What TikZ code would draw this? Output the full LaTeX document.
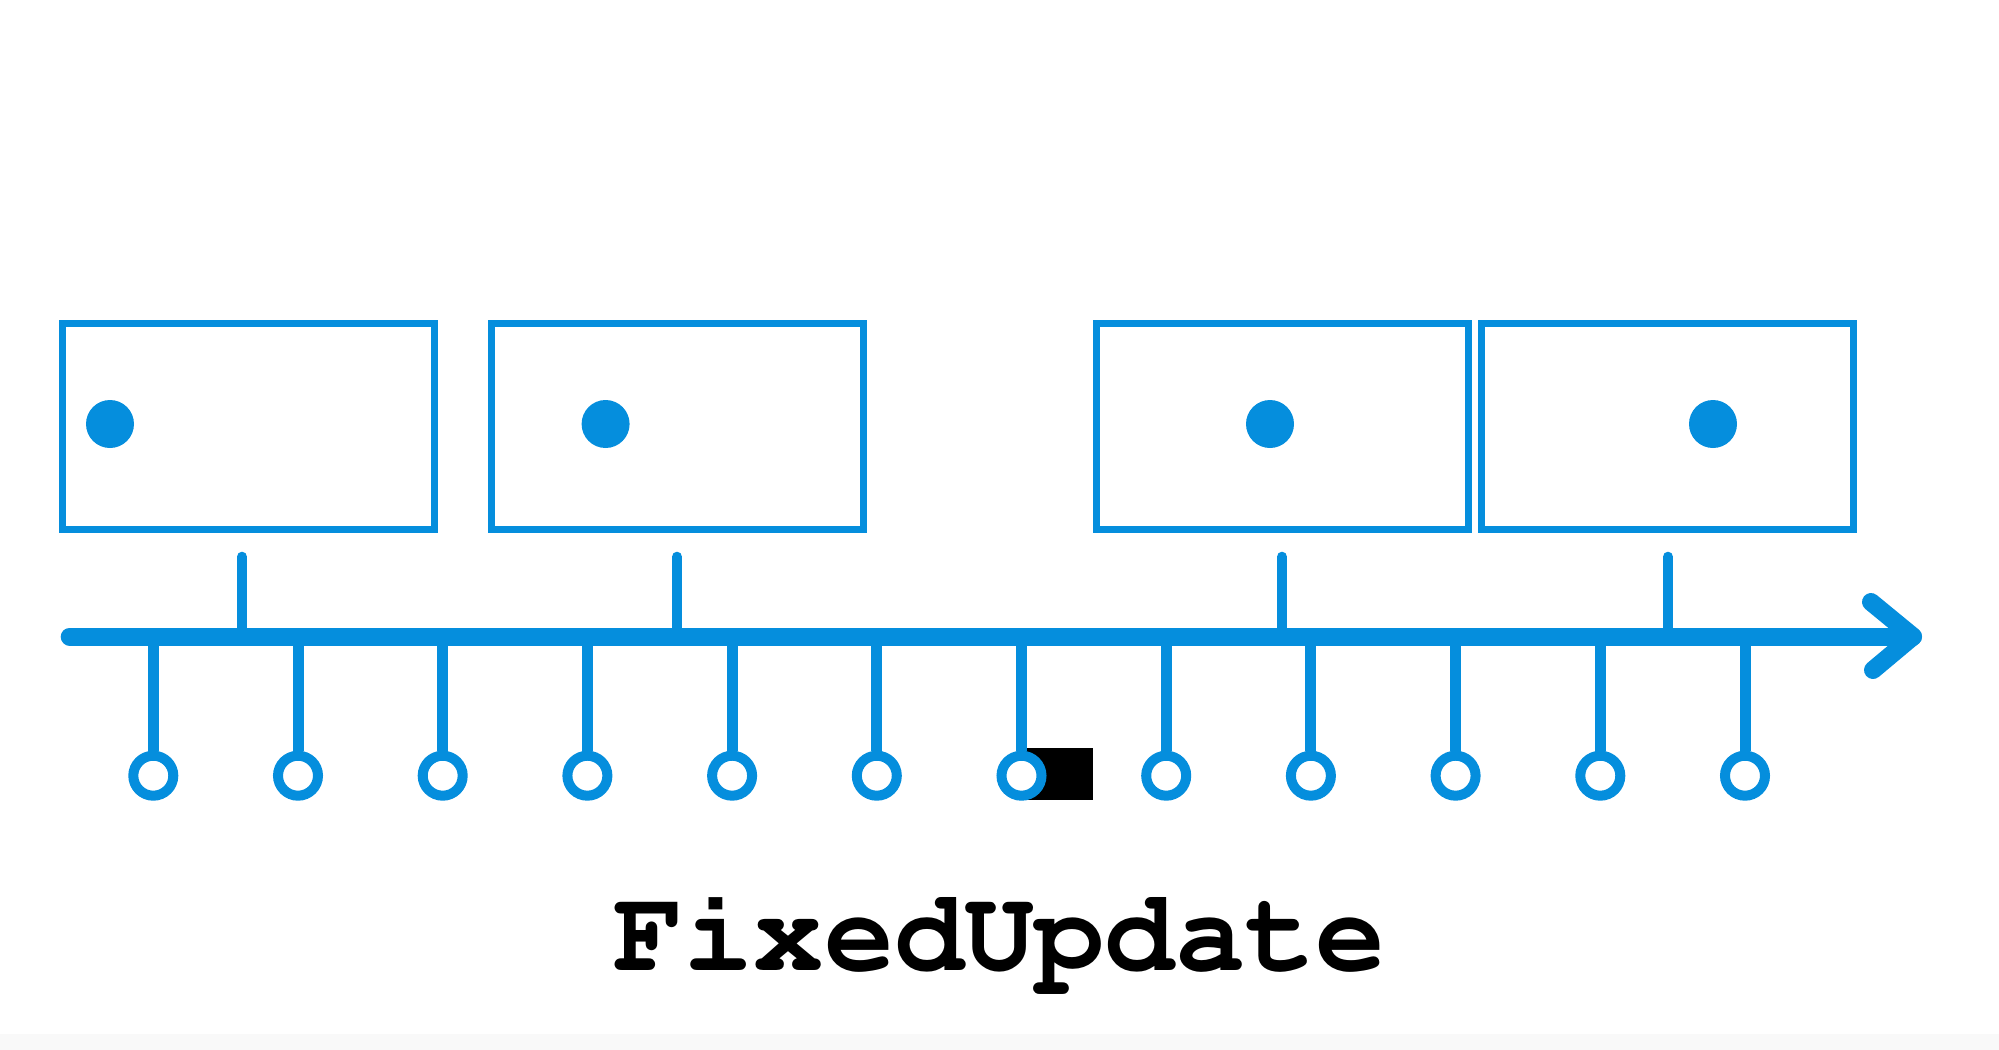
\documentclass[tikz,border=0pt]{standalone}
\usepackage[T1]{fontenc}
\usepackage{fontspec}
\definecolor{tblue}{RGB}{5,142,221}
\begin{document}
\begin{tikzpicture}[x=0.5pt,y=-0.5pt,
  framebox/.style={draw=tblue,line width=3.35pt,minimum width=186pt,minimum height=103pt,inner sep=0pt,outer sep=0pt},
  bluedot/.style={circle,fill=tblue,minimum size=24pt,inner sep=0pt,outer sep=0pt},
  ring/.style={circle,draw=tblue,fill=white,line width=5pt,minimum size=20pt,inner sep=0pt,outer sep=2.5pt},
  axisline/.style={draw=tblue,line width=9pt,line cap=round,line join=round},
  boxtick/.style={draw=tblue,line width=5pt,line cap=round},
  stem/.style={draw=tblue,line width=5.5pt},
  fulabel/.style={font=\fontencoding{T1}\fontfamily{pcr}\fontseries{b}\fontshape{n}\fontsize{58.5}{60}\selectfont,inner sep=0pt,anchor=base}
]
\useasboundingbox (0,0) rectangle (1999,1050);
\fill[white] (0,0) rectangle (1999,1050);
\fill[black!2.5] (0,1034) rectangle (1999,1050);

% boxes
\node[framebox] (b1) at (248.8,426.3) {};
\node[framebox] (b2) at (677.2,426.3) {};
\node[framebox] (b3) at (1282.2,426.3) {};
\node[framebox] (b4) at (1667.7,426.3) {};
% dots
\node[bluedot] (d1) at (110,424) {};
\node[bluedot] (d2) at (605.6,424) {};
\node[bluedot] (d3) at (1270,424) {};
\node[bluedot] (d4) at (1713,424) {};

% axis
\coordinate (ax0) at (69.7,636.5);
\coordinate (tip) at (1913,636.5);
\coordinate (armU) at (1871,602);
\coordinate (armD) at (1873,670);
\draw[axisline] (ax0) -- (tip);
\draw[axisline] (armU) -- (tip) -- (armD);

% ticks from boxes
\foreach \x/\n in {242/1,677/2,1282/3,1668/4}{
  \coordinate (bt\n) at (\x,556.7);
  \coordinate (ba\n) at (\x,636.5);
  \draw[boxtick] (bt\n) -- (ba\n);
}

% black rectangle
\coordinate (rA) at (1022,748);
\coordinate (rB) at (1093.3,800);
\fill[black] (rA) rectangle (rB);

% lower stems with rings
\foreach \i in {0,...,11}{
  \pgfmathsetmacro{\xx}{153.3+144.7*\i}
  \coordinate (sa\i) at (\xx,636.5);
  \node[ring] (c\i) at (\xx,775.7) {};
  \draw[stem] (sa\i) -- (c\i.north);
}

\node[fulabel] (t) at (999.5,970) {FixedUpdate};
\end{tikzpicture}
\end{document}
